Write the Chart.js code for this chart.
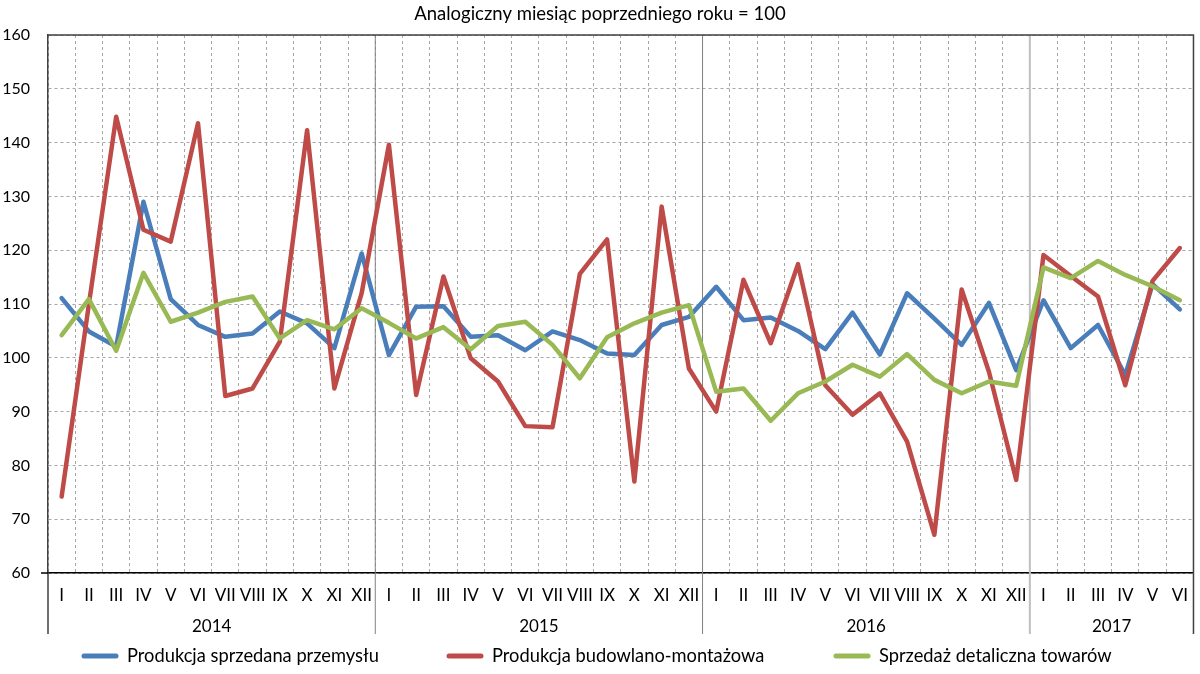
<!DOCTYPE html>
<html>
<head>
<meta charset="utf-8">
<script src="https://cdn.jsdelivr.net/npm/chart.js@4.4.0/dist/chart.umd.min.js"></script>
<style>
  html, body { margin: 0; padding: 0; background: #fff; }
</style>
</head>
<body>
<canvas id="wykres" width="1200" height="674"></canvas>
<script>
// Dane: analogiczny miesiąc poprzedniego roku = 100
const miesiace = ['I', 'II', 'III', 'IV', 'V', 'VI', 'VII', 'VIII', 'IX', 'X', 'XI', 'XII'];
const lata = ['2014', '2015', '2016', '2017'];
const miesiaceWRoku = [12, 12, 12, 6];

const przemysl = [
    111.1, 104.9, 102.1, 129.0, 110.9, 106.1, 103.9, 104.5, 108.6, 106.4, 101.8, 119.4,
    100.5, 109.5, 109.6, 103.9, 104.2, 101.4, 104.9, 103.3, 100.8, 100.5, 106.1, 107.6,
    113.2, 107.0, 107.5, 105.0, 101.6, 108.4, 100.6, 112.0, 107.3, 102.4, 110.2, 97.7,
    110.7, 101.8, 106.1, 96.8, 113.7, 109.0
];
const budownictwo = [
    74.2, 110.0, 144.8, 123.8, 121.6, 143.6, 92.9, 94.3, 103.0, 142.3, 94.3, 112.0,
    139.6, 93.1, 115.1, 99.9, 95.6, 87.3, 87.1, 115.6, 122.0, 77.0, 128.1, 98.0,
    90.0, 114.5, 102.7, 117.4, 94.9, 89.4, 93.4, 84.4, 67.1, 112.7, 97.4, 77.3,
    119.1, 115.2, 111.4, 94.9, 114.3, 120.4
];
const detal = [
    104.2, 110.9, 101.3, 115.8, 106.7, 108.4, 110.4, 111.4, 103.6, 107.0, 105.3, 109.2,
    106.5, 103.6, 105.7, 101.6, 105.9, 106.7, 102.4, 96.2, 103.8, 106.4, 108.4, 109.8,
    93.7, 94.3, 88.3, 93.4, 95.6, 98.7, 96.5, 100.7, 95.9, 93.4, 95.6, 94.8,
    116.8, 114.8, 118.0, 115.4, 113.3, 110.7
];

const nazwySerii = ['Produkcja sprzedana przemysłu', 'Produkcja budowlano-montażowa', 'Sprzedaż detaliczna towarów'];
const kolory = ['#4a7ebb', '#be4b48', '#98b954'];
const tytul = 'Analogiczny miesiąc poprzedniego roku = 100';

// etykiety osi X: miesiące kolejnych lat
const etykiety = [];
miesiaceWRoku.forEach(n => { for (let i = 0; i < n; i++) etykiety.push(miesiace[i]); });

const FONT = 'Lato, "Noto Sans", sans-serif';

// ramka, linie oddzielające lata, tytuł, podpisy lat i legenda
const dodatki = {
    id: 'dodatki',
    beforeDatasetsDraw(chart) {
        const { ctx, chartArea: a, scales: { x } } = chart;
        const dol = 634;
        ctx.save();
        let idx = 0;
        miesiaceWRoku.forEach((n, k) => {
            if (k > 0) {
                const px = (x.getPixelForValue(idx - 1) + x.getPixelForValue(idx)) / 2;
                ctx.beginPath();
                ctx.strokeStyle = k === 3 ? '#bfbfbf' : '#808080';
                ctx.lineWidth = k === 3 ? 2 : 1;
                ctx.moveTo(px, a.top);
                ctx.lineTo(px, dol);
                ctx.stroke();
            }
            idx += n;
        });
        ctx.strokeStyle = '#404040';
        ctx.lineWidth = 1.5;
        ctx.beginPath();
        ctx.moveTo(a.left, a.top);
        ctx.lineTo(a.right, a.top);
        ctx.lineTo(a.right, dol);
        ctx.moveTo(a.left, a.bottom);
        ctx.lineTo(a.left, dol);
        ctx.stroke();
        ctx.strokeStyle = '#000';
        ctx.beginPath();
        ctx.moveTo(a.left - 7, a.bottom);
        ctx.lineTo(a.left, a.bottom);
        ctx.stroke();
        ctx.restore();
    },
    afterDraw(chart) {
        const { ctx, chartArea: a, scales: { x } } = chart;
        ctx.save();
        ctx.fillStyle = '#000';
        ctx.textBaseline = 'middle';
        ctx.textAlign = 'center';
        ctx.font = '18.5px ' + FONT;
        ctx.fillText(tytul, 600, 14);

        // podpisy lat
        ctx.font = '17px ' + FONT;
        let idx = 0;
        miesiaceWRoku.forEach((n, k) => {
            const lewy = idx === 0 ? a.left : (x.getPixelForValue(idx - 1) + x.getPixelForValue(idx)) / 2;
            const koniec = idx + n;
            const prawy = koniec >= etykiety.length ? a.right : (x.getPixelForValue(koniec - 1) + x.getPixelForValue(koniec)) / 2;
            ctx.fillText(lata[k], (lewy + prawy) / 2, 627);
            idx = koniec;
        });

        // legenda
        const pozycje = [82, 447, 834];
        ctx.textAlign = 'left';
        ctx.font = '18.3px ' + FONT;
        chart.data.datasets.forEach((ds, i) => {
            const lx = pozycje[i];
            ctx.beginPath();
            ctx.strokeStyle = ds.borderColor;
            ctx.lineWidth = 5;
            ctx.lineCap = 'round';
            ctx.moveTo(lx + 2, 656);
            ctx.lineTo(lx + 34, 656);
            ctx.stroke();
            ctx.fillText(ds.label, lx + 45, 656);
        });
        ctx.restore();
    }
};

const seria = (i, dane, kolejnosc) => ({
    label: nazwySerii[i],
    data: dane,
    borderColor: kolory[i],
    backgroundColor: kolory[i],
    borderWidth: 4.5,
    pointRadius: 0,
    tension: 0,
    borderCapStyle: 'round',
    borderJoinStyle: 'round',
    order: kolejnosc
});

new Chart(document.getElementById('wykres'), {
    type: 'line',
    data: {
        labels: etykiety,
        datasets: [seria(0, przemysl, 3), seria(1, budownictwo, 2), seria(2, detal, 1)]
    },
    options: {
        responsive: false,
        animation: false,
        devicePixelRatio: 1,
        layout: { padding: { top: 35, right: 2, left: 0, bottom: 0 } },
        plugins: { legend: { display: false }, title: { display: false }, tooltip: { enabled: false } },
        scales: {
            x: {
                offset: true,
                grid: { offset: true, color: '#a6a6a6', lineWidth: 1, drawTicks: false },
                border: { color: '#000', width: 1.5, dash: [3, 3] },
                ticks: { autoSkip: false, maxRotation: 0, minRotation: 0, padding: 12, color: '#000', font: { family: FONT, size: 17 } },
                afterFit: s => { s.height = 101; }
            },
            y: {
                min: 60,
                max: 160,
                grid: { color: '#a6a6a6', lineWidth: 1, drawTicks: false },
                border: { color: '#404040', width: 1.5, dash: [3, 3] },
                ticks: { stepSize: 10, padding: 18, color: '#000', font: { family: FONT, size: 16 } },
                afterFit: s => { s.width = 48; }
            }
        }
    },
    plugins: [dodatki]
});
</script>
</body>
</html>
